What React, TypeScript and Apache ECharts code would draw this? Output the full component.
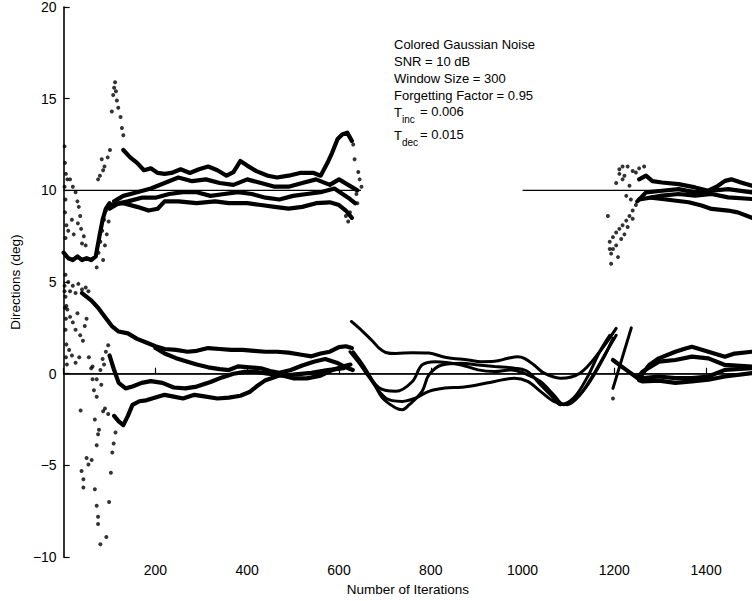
import React, { useEffect, useRef } from "react";
import * as echarts from "echarts";

type P = [number, number][];

// ---- axis settings / labels ----
const xTickValues = [200, 400, 600, 800, 1000, 1200, 1400];
const yTickValues = [-10, -5, 0, 5, 10, 15, 20];
const noteLines = ["Colored Gaussian Noise", "SNR = 10 dB", "Window Size = 300", "Forgetting Factor = 0.95"];
const tIncValue = "0.006";
const tDecValue = "0.015";

// ---- true directions (reference lines) ----
const trueZero: P = [[0, 0], [1500, 0]];
const trueTenA: P = [[0, 10], [648, 10]];
const trueTenB: P = [[1000, 10], [1500, 10]];

// ---- segment A (0-650): dotted estimate tracks ----
const earlyUpperTrack: P = [[0, 6.6], [10, 6.3], [20, 6.2], [30, 6.4], [40, 6.2], [50, 6.3], [60, 6.2], [70, 6.4], [78, 7.5], [85, 8.4], [92, 9.0], [100, 9.3]];
const UA1: P = [[130, 12.2], [145, 11.8], [160, 11.5], [175, 11.1], [190, 11.2], [205, 10.95], [220, 10.9], [235, 10.95], [255, 11.15], [275, 10.95], [295, 11.15], [315, 11.3], [335, 11.1], [355, 10.8], [370, 11.0], [385, 11.6], [400, 11.35], [420, 11.05], [445, 10.8], [465, 10.7], [490, 10.8], [515, 10.95], [545, 10.95], [560, 10.8], [575, 11.5], [585, 12.05], [597, 12.8], [607, 13.05], [618, 13.15], [628, 12.7]];
const UA2: P = [[110, 9.4], [130, 9.7], [160, 9.9], [190, 10.1], [220, 10.4], [250, 10.7], [280, 10.5], [310, 10.6], [340, 10.4], [370, 10.3], [400, 10.6], [430, 10.4], [460, 10.2], [490, 10.2], [520, 10.4], [550, 10.6], [580, 10.3], [600, 10.6], [620, 10.3], [640, 10.0]];
const UA3: P = [[100, 9.0], [120, 9.3], [140, 9.4], [170, 9.6], [200, 9.6], [230, 9.8], [260, 9.9], [290, 9.9], [320, 9.7], [350, 9.8], [380, 9.9], [410, 9.8], [440, 9.6], [470, 9.5], [500, 9.7], [530, 9.8], [560, 9.9], [590, 10.1], [620, 9.6], [635, 9.3]];
const UA4: P = [[100, 9.2], [130, 9.3], [160, 9.1], [185, 8.9], [205, 9.0], [220, 9.4], [250, 9.4], [290, 9.3], [330, 9.4], [360, 9.3], [400, 9.3], [430, 9.2], [460, 9.1], [490, 9.0], [520, 9.1], [550, 9.3], [580, 9.35], [600, 9.2], [615, 8.9], [628, 8.5]];
const LA1: P = [[40, 4.4], [60, 4.0], [75, 3.6], [90, 3.1], [105, 2.6], [120, 2.3], [140, 2.2], [160, 1.9], [180, 1.7], [200, 1.5], [220, 1.35], [245, 1.3], [270, 1.2], [290, 1.25], [315, 1.4], [340, 1.35], [365, 1.3], [390, 1.3], [415, 1.25], [440, 1.2], [465, 1.2], [490, 1.15], [515, 1.05], [540, 0.95], [560, 1.1], [580, 1.2], [600, 1.45], [615, 1.5], [628, 1.4]];
const LA2: P = [[200, 1.4], [220, 1.1], [245, 0.85], [270, 0.65], [290, 0.5], [315, 0.35], [340, 0.25], [360, 0.2], [380, 0.4], [405, 0.35], [430, 0.3], [450, 0.15], [470, 0.05], [495, 0.2], [520, 0.45], [545, 0.65], [570, 0.8], [595, 0.6], [615, 0.35], [630, 0.2]];
const LA3: P = [[100, 1.0], [110, 0.2], [120, -0.5], [135, -0.8], [150, -0.7], [170, -0.5], [190, -0.4], [215, -0.5], [240, -0.75], [265, -0.8], [290, -0.7], [320, -0.45], [345, -0.2], [370, 0.0], [395, 0.1], [420, 0.1], [445, 0.0], [470, -0.05], [500, -0.25], [530, -0.25], [560, -0.1], [585, 0.2], [610, 0.4], [625, 0.5]];
const LA4: P = [[110, -2.3], [120, -2.6], [130, -2.8], [140, -2.3], [150, -1.7], [165, -1.5], [180, -1.45], [200, -1.3], [220, -1.15], [240, -1.25], [260, -1.35], [285, -1.15], [310, -1.25], [335, -1.35], [360, -1.3], [385, -1.2], [405, -1.0], [420, -0.7], [440, -0.35], [470, -0.1], [500, -0.05], [540, 0.05], [575, 0.2], [610, 0.3]];

const earlyUpperDots: P = [[2, 12.4], [3, 11.5], [5, 10.9], [2, 10.2], [8, 10.6], [14, 10.6], [20, 10.2], [26, 9.9], [30, 9.4], [33, 9.1], [36, 8.6], [31, 8.2], [38, 7.9], [44, 7.5], [40, 7.1], [48, 7.0], [4, 9.5], [3, 8.8], [6, 8.1], [4, 7.4], [10, 7.8], [18, 8.4], [22, 7.6], [4, 5.4], [2, 4.5], [6, 3.7], [75, 10.6], [79, 10.8], [83, 11.7], [86, 11.1], [89, 11.3], [96, 11.8], [101, 12.2], [105, 14.3], [108, 15.2], [110, 15.6], [112, 15.9], [114, 15.4], [116, 14.9], [119, 14.5], [124, 14.0], [127, 13.4], [130, 13.0], [72, 5.8], [76, 6.6], [80, 7.2], [84, 7.8], [88, 8.4], [92, 8.9], [86, 6.2], [90, 7.0], [94, 7.6], [98, 8.3]];
const earlyLowerDots: P = [[2, 4.8], [4, 4.2], [3, 3.6], [5, 3.0], [4, 2.4], [6, 1.6], [5, 0.9], [7, 0.5], [10, 5.0], [14, 4.5], [20, 4.8], [26, 4.4], [32, 4.9], [40, 4.6], [48, 4.7], [54, 4.5], [8, 3.5], [14, 3.1], [20, 2.8], [26, 2.4], [30, 3.3], [36, 2.1], [42, 1.8], [46, 2.6], [50, 3.0], [12, 1.3], [18, 1.0], [26, 0.6], [34, 0.9], [55, 0.9], [60, 0.3], [37, -2.0], [63, -0.3], [66, -0.9], [72, -1.25], [68, -2.5], [77, -3.05], [75, -3.3], [72, -3.9], [50, -4.6], [54, -4.95], [61, -4.7], [39, -5.3], [43, -5.75], [43, -6.2], [68, -6.3], [72, -7.2], [75, -7.8], [75, -8.2], [80, -9.3], [93, -8.9], [99, -7.0], [103, -5.4], [106, -4.3], [109, -3.8], [113, -3.2], [86, -2.05], [90, -1.9], [97, -2.2], [63, 0.4], [72, -0.3], [80, 0.2], [85, 0.8], [92, 1.2], [97, 1.55], [88, 0.5], [82, -0.6]];
const upperEndDots: P = [[631, 12.5], [634, 11.7], [642, 11.0], [649, 10.2], [645, 10.6], [615, 8.6], [620, 8.3], [624, 8.8], [638, 9.8], [640, 9.3]];

// ---- segment B (628-1250): smooth estimate curves ----
const B1: P = [[627, 2.85], [652, 2.3], [674, 1.76], [688, 1.38], [702, 1.16], [724, 1.1], [760, 1.15], [796, 1.13], [831, 0.9], [882, 0.75], [910, 0.66], [939, 0.68], [968, 0.84], [989, 0.93], [1004, 0.84], [1025, 0.48], [1047, 0.03], [1082, -0.24], [1125, 0.03], [1168, 1.2], [1204, 2.47]];
const B2: P = [[631, 1.2], [652, 0.48], [674, -0.42], [695, -1.33], [724, -1.87], [738, -1.96], [753, -1.69], [781, -0.96], [796, -0.06], [824, 0.48], [867, 0.57], [903, 0.48], [939, 0.39], [982, 0.3], [1011, 0.12], [1039, -0.6], [1068, -1.33], [1082, -1.69], [1111, -1.33], [1140, -0.24], [1168, 1.2], [1190, 2.1]];
const B3: P = [[624, 1.2], [659, 0.12], [688, -0.78], [724, -0.96], [760, -0.42], [781, 0.48], [810, 0.66], [867, 0.48], [903, 0.21], [939, 0.12], [975, 0.21], [1011, -0.06], [1039, -0.42], [1068, -1.15], [1090, -1.69], [1118, -1.33], [1147, -0.42], [1176, 0.84], [1197, 1.93]];
const B4: P = [[638, 0.84], [667, -0.24], [702, -1.33], [738, -1.51], [767, -1.33], [796, -0.96], [831, -0.78], [867, -0.74], [903, -0.6], [939, -0.42], [982, -0.24], [1011, -0.42], [1039, -0.96], [1068, -1.51], [1097, -1.69], [1125, -1.15], [1154, -0.06], [1183, 1.2], [1204, 2.1]];
const cDiag: P = [[1197, -0.8], [1237, 2.5]];

// ---- segment C (1190-1500) ----
const cDots: P = [[1186, 8.6], [1193, 6.0], [1193, 6.55], [1208, 6.36], [1190, 6.8], [1211, 11.15], [1218, 11.3], [1229, 11.3], [1240, 11.06], [1247, 10.97], [1254, 11.2], [1265, 11.3], [1204, 10.4], [1218, 10.6], [1233, 10.25], [1226, 9.7], [1236, 9.5], [1211, 10.9], [1222, 10.8], [1197, -1.35], [1190, 7.2], [1197, 7.45], [1204, 7.7], [1211, 7.9], [1218, 8.1], [1226, 8.35], [1233, 8.6], [1240, 8.9], [1247, 9.2], [1197, 6.8], [1204, 7.0], [1215, 7.35], [1222, 7.6], [1229, 8.0], [1240, 8.45]];
const CU1: P = [[1254, 10.6], [1269, 10.8], [1283, 10.5], [1304, 10.43], [1340, 10.34], [1376, 10.16], [1405, 9.98], [1426, 10.25], [1441, 10.52], [1455, 10.6], [1476, 10.43], [1500, 10.25]];
const CU2: P = [[1250, 9.4], [1269, 9.89], [1304, 9.98], [1340, 10.07], [1376, 9.89], [1412, 9.98], [1448, 10.07], [1500, 9.89]];
const CU3: P = [[1254, 9.5], [1261, 9.53], [1304, 9.71], [1340, 9.8], [1376, 9.71], [1412, 9.8], [1448, 9.62], [1500, 9.53]];
const CU4: P = [[1280, 9.6], [1304, 9.53], [1362, 9.35], [1390, 9.17], [1412, 8.99], [1448, 8.9], [1469, 8.8], [1500, 8.5]];
const cLowStart: P = [[1197, 0.75], [1211, 0.48], [1226, 0.21], [1254, -0.3]];
const CL1: P = [[1254, -0.24], [1276, 0.48], [1297, 0.84], [1333, 1.2], [1355, 1.38], [1369, 1.47], [1405, 1.2], [1441, 0.93], [1462, 1.1], [1500, 1.2]];
const CL2: P = [[1254, -0.1], [1262, 0.12], [1297, 0.66], [1333, 0.75], [1369, 0.93], [1405, 0.84], [1441, 0.48], [1500, 0.39]];
const CL3: P = [[1254, -0.3], [1262, -0.24], [1297, -0.15], [1333, -0.24], [1369, -0.24], [1405, -0.15], [1441, 0.21], [1500, 0.3]];
const CL4: P = [[1254, -0.35], [1262, -0.42], [1297, -0.38], [1333, -0.5], [1369, -0.42], [1405, -0.33], [1441, -0.15], [1500, 0.03]];

const FONT = '"Liberation Sans", Arial, Helvetica, sans-serif';

function dotTrack(data: P) {
  return { type: "line", data, symbol: "none", silent: true, lineStyle: { color: "#000", width: 4.2, join: "round", cap: "round" } };
}
function smoothCurve(data: P) {
  return { type: "line", data, symbol: "none", smooth: 0.35, silent: true, lineStyle: { color: "#000", width: 3, cap: "round" } };
}
function refLine(data: P) {
  return { type: "line", data, symbol: "none", silent: true, lineStyle: { color: "#000", width: 1.2 } };
}
function dots(data: P) {
  return { type: "scatter", data, symbol: "circle", symbolSize: 4, silent: true, itemStyle: { color: "#000" } };
}

export default function App() {
  const ref = useRef<HTMLDivElement>(null);
  useEffect(() => {
    if (!ref.current) return;
    const chart = echarts.init(ref.current, undefined, { renderer: "svg" });
    const textStyle = { fill: "#000", fontSize: 13, fontFamily: FONT };
    const noteX = 394;
    const lineTops = [38, 55, 72, 89];
    const graphic: any[] = noteLines.map((t, i) => ({
      type: "text", left: noteX, top: lineTops[i], style: { ...textStyle, text: t },
    }));
    const tRows = [{ sub: "inc", val: tIncValue, top: 106 }, { sub: "dec", val: tDecValue, top: 129 }];
    tRows.forEach((r) => {
      graphic.push({ type: "text", left: noteX, top: r.top, style: { ...textStyle, text: "T" } });
      graphic.push({ type: "text", left: noteX + 8, top: r.top + 8, style: { ...textStyle, fontSize: 10, text: r.sub } });
      graphic.push({ type: "text", left: noteX + 26, top: r.top - 1, style: { ...textStyle, text: "= " + r.val } });
    });
    const option: any = {
      animation: false,
      backgroundColor: "#fff",
      grid: { left: 62, right: -8, top: 7, bottom: 41 },
      xAxis: {
        type: "value", min: 0, max: 1500, interval: 200,
        axisLine: { lineStyle: { color: "#000", width: 1.6 } },
        axisTick: { inside: true, length: 6, lineStyle: { color: "#000", width: 1.2 } },
        axisLabel: {
          color: "#000", fontSize: 14, fontFamily: FONT, margin: 6, showMaxLabel: false,
          formatter: (v: number) => (xTickValues.indexOf(v) >= 0 ? String(v) : ""),
        },
        splitLine: { show: false },
        name: "Number of Iterations", nameLocation: "middle", nameGap: 22,
        nameTextStyle: { color: "#000", fontSize: 13.5, fontFamily: FONT },
      },
      yAxis: {
        type: "value", min: -10, max: 20, interval: 5,
        axisLine: { lineStyle: { color: "#000", width: 1.6 } },
        axisTick: { inside: true, length: 6, lineStyle: { color: "#000", width: 1.2 } },
        axisLabel: {
          color: "#000", fontSize: 14, fontFamily: FONT, margin: 7,
          formatter: (v: number) => (yTickValues.indexOf(v) >= 0 ? (v < 0 ? "\u2212" + -v : String(v)) : ""),
        },
        splitLine: { show: false },
        name: "Directions (deg)", nameLocation: "middle", nameGap: 35, nameRotate: 90,
        nameTextStyle: { color: "#000", fontSize: 13.5, fontFamily: FONT },
      },
      graphic,
      series: [
        refLine(trueZero), refLine(trueTenA), refLine(trueTenB),
        dotTrack(earlyUpperTrack), dotTrack(UA1), dotTrack(UA2), dotTrack(UA3), dotTrack(UA4),
        dotTrack(LA1), dotTrack(LA2), dotTrack(LA3), dotTrack(LA4),
        dots(earlyUpperDots), dots(earlyLowerDots), dots(upperEndDots),
        smoothCurve(B1), smoothCurve(B2), smoothCurve(B3), smoothCurve(B4), smoothCurve(cDiag),
        dots(cDots),
        dotTrack(CU1), dotTrack(CU2), dotTrack(CU3), dotTrack(CU4),
        dotTrack(cLowStart), dotTrack(CL1), dotTrack(CL2), dotTrack(CL3), dotTrack(CL4),
      ],
    };
    chart.setOption(option);
    return () => chart.dispose();
  }, []);
  return <div ref={ref} style={{ position: "fixed", left: 0, top: 0, width: 752, height: 601, background: "#fff" }} />;
}
